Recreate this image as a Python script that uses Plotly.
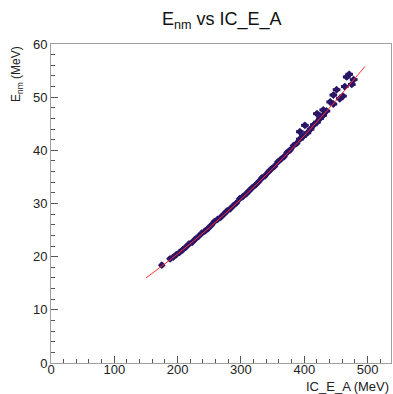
import plotly.graph_objects as go

# Profile points (IC_E_A in MeV, E_nm in MeV)
x_pts = [175, 188, 193, 198, 203, 208, 213, 218, 223, 228, 233, 238, 243, 248,
         253, 258, 263, 268, 273, 278, 283, 288, 293, 298, 303, 308, 313, 318,
         323, 328, 333, 338, 343, 348, 353, 358, 363, 368, 373, 378, 383, 388,
         393, 393, 398, 401, 405, 410, 415, 420, 420, 425, 430, 430, 435, 441,
         446, 446, 451, 456, 461, 464, 467, 471, 475, 478]
y_pts = [18.4, 19.6, 19.9, 20.4, 20.8, 21.3, 21.8, 22.4, 22.7, 23.3, 23.8, 24.4,
         24.8, 25.3, 25.9, 26.6, 27.0, 27.4, 28.0, 28.6, 29.0, 29.6, 30.1, 30.9,
         31.3, 31.8, 32.4, 33.0, 33.5, 34.1, 34.8, 35.2, 35.9, 36.5, 37.0, 37.8,
         38.3, 38.8, 39.6, 40.1, 40.9, 41.3, 42.1, 43.5, 42.6, 44.7, 43.3, 44.0,
         44.8, 45.3, 46.9, 46.0, 46.6, 47.6, 47.4, 49.1, 48.7, 50.4, 51.4, 49.7,
         50.2, 52.0, 53.8, 54.3, 52.4, 53.3]
x_err = [4] * 42 + [6] * 24
y_err = [0.5] * 66

# Fit curve
fit_x = [150, 200, 250, 300, 350, 400, 450, 496]
fit_y = [16.0, 20.52, 25.45, 30.80, 36.57, 42.76, 49.36, 55.80]

mk = "#2a1466"
fig = go.Figure()
fig.add_trace(go.Scatter(
    x=x_pts, y=y_pts, mode="markers",
    marker=dict(symbol="diamond", size=6, color=mk),
    error_x=dict(type="data", array=x_err, color=mk, thickness=3, width=0),
    error_y=dict(type="data", array=y_err, color=mk, thickness=3, width=0),
    showlegend=False,
))
fig.add_trace(go.Scatter(
    x=fit_x, y=fit_y, mode="lines", line=dict(color="#ff3030", width=1, shape="spline"),
    showlegend=False,
))

font_family = "Liberation Sans, Arial, sans-serif"
axis_common = dict(
    showline=True, mirror=True, linecolor="#a0a0a0", linewidth=1,
    ticks="inside", ticklen=7, tickcolor="#555555", tickwidth=1,
    showgrid=False, zeroline=False,
    tickfont=dict(family=font_family, size=13, color="#222222"),
)

fig.update_layout(
    width=393, height=394,
    margin=dict(l=51, r=2, t=44, b=31),
    paper_bgcolor="white", plot_bgcolor="white",
    xaxis=dict(range=[0, 537], tickvals=[0, 100, 200, 300, 400, 500],
               ticklabelstandoff=-6,
               minor=dict(dtick=20, ticks="inside", ticklen=4, tickcolor="#555555"),
               **axis_common),
    yaxis=dict(range=[0, 60], tickvals=[0, 10, 20, 30, 40, 50, 60],
               minor=dict(dtick=2, ticks="inside", ticklen=4, tickcolor="#555555"),
               **axis_common),
    annotations=[
        dict(text="E<sub>nm</sub> vs IC_E_A", xref="paper", yref="paper",
             x=(222 - 51) / 340, y=1 + 24 / 319, xanchor="center", yanchor="middle",
             showarrow=False, font=dict(family=font_family, size=18, color="#111111")),
        dict(text="IC_E_A (MeV)", xref="paper", yref="paper",
             x=1, y=-14 / 319, xanchor="right", yanchor="top",
             showarrow=False, font=dict(family=font_family, size=13, color="#222222")),
        dict(text="E<sub>nm</sub> (MeV)", xref="paper", yref="paper",
             x=(17 - 51) / 340, y=1, xanchor="center", yanchor="top", textangle=-90,
             showarrow=False, font=dict(family=font_family, size=12, color="#222222")),
    ],
)

fig.write_html("out.html")
